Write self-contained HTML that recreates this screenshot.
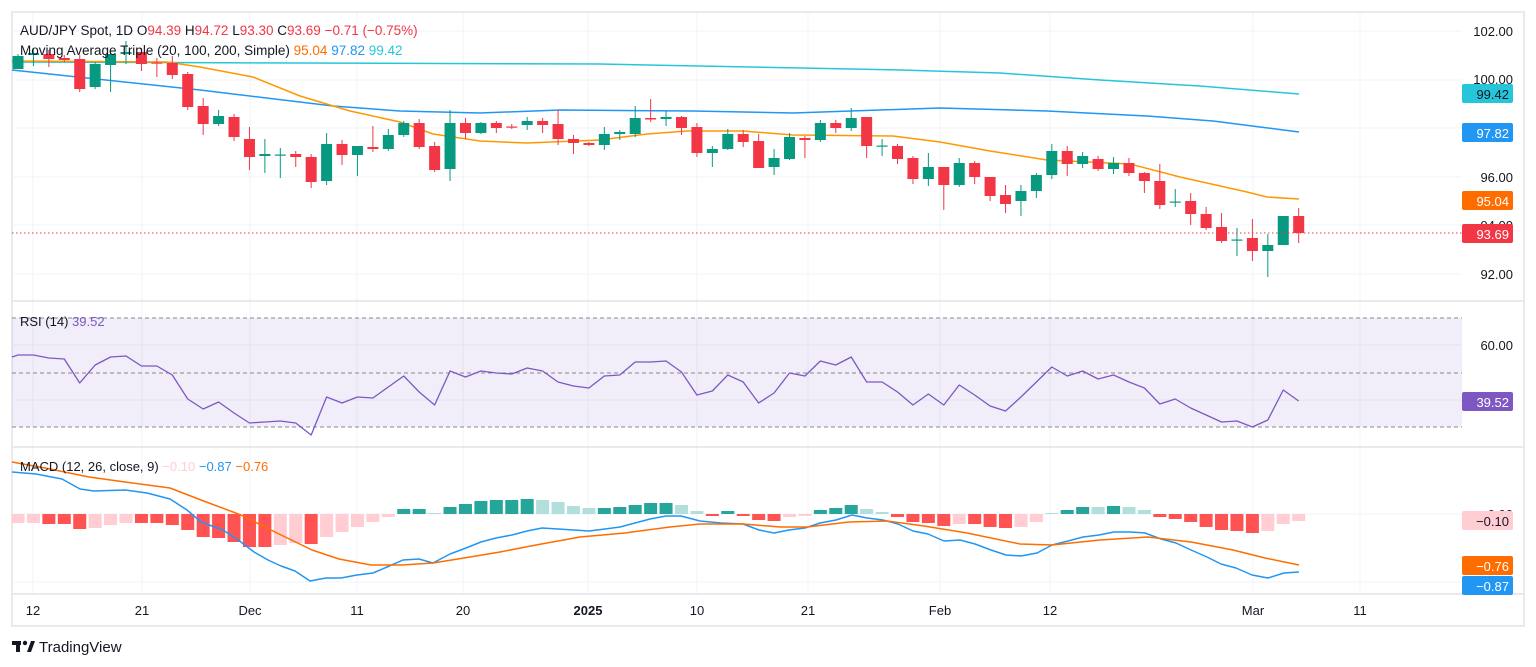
<!DOCTYPE html>
<html><head><meta charset="utf-8">
<style>
html,body{margin:0;padding:0;background:#fff;width:1536px;height:667px;overflow:hidden}
svg{display:block;font-family:"Liberation Sans","DejaVu Sans",sans-serif}
</style></head>
<body>
<svg id="s" width="1536" height="667" viewBox="0 0 1536 667" xmlns="http://www.w3.org/2000/svg">
<rect x="0" y="0" width="1536" height="667" fill="#fff"/>
<rect x="12" y="12" width="1512" height="614" fill="none" stroke="#e0e3eb" stroke-width="1.5"/>
<g id="grid" stroke="#f0f3fa" stroke-width="1"></g>
<!-- RSI band -->
<rect x="12" y="318" width="1450" height="109" fill="#7e57c2" fill-opacity="0.1"/>
<g stroke="#888" stroke-width="1" stroke-dasharray="4,3">
<line x1="12" y1="318" x2="1462" y2="318"/><line x1="12" y1="373" x2="1462" y2="373"/><line x1="12" y1="427" x2="1462" y2="427"/>
</g>
<!-- pane separators -->
<g stroke="#e0e3eb" stroke-width="1.5">
<line x1="12" y1="301" x2="1524" y2="301"/><line x1="12" y1="447" x2="1524" y2="447"/><line x1="12" y1="594" x2="1524" y2="594"/>
</g>
<line x1="12" y1="514" x2="1462" y2="514" stroke="#f0f3fa"/>
<g id="main"></g>
<line x1="12" y1="233" x2="1462" y2="233" stroke="#f23645" stroke-width="1" stroke-dasharray="1.5,2.5"/>

<!-- legends -->
<text x="20" y="35" font-size="13.5" fill="#131722">AUD/JPY Spot, 1D <tspan fill="#131722">O</tspan><tspan fill="#f23645">94.39</tspan> <tspan fill="#131722">H</tspan><tspan fill="#f23645">94.72</tspan> <tspan fill="#131722">L</tspan><tspan fill="#f23645">93.30</tspan> <tspan fill="#131722">C</tspan><tspan fill="#f23645">93.69</tspan> <tspan fill="#f23645">−0.71 (−0.75%)</tspan></text>
<text x="20" y="55" font-size="13.5" fill="#131722">Moving Average Triple (20, 100, 200, Simple) <tspan fill="#ff6d00">95.04</tspan> <tspan fill="#2196f3">97.82</tspan> <tspan fill="#26c6da">99.42</tspan></text>
<text x="20" y="326" font-size="13" fill="#131722">RSI (14) <tspan fill="#7e57c2">39.52</tspan></text>
<text x="20" y="471" font-size="13" fill="#131722">MACD (12, 26, close, 9) <tspan fill="#ffcdd2">−0.10</tspan> <tspan fill="#2196f3">−0.87</tspan> <tspan fill="#ff6d00">−0.76</tspan></text>

<!-- price axis -->
<g font-size="13" fill="#131722" text-anchor="end">
<text x="1513" y="36">102.00</text>
<text x="1513" y="84">100.00</text>
<text x="1513" y="182">96.00</text>
<text x="1513" y="230">94.00</text>
<text x="1513" y="279">92.00</text>
<text x="1513" y="350">60.00</text>
<text x="1513" y="519">0.00</text>
</g>
<rect x="1462" y="84" width="51" height="19" rx="2" fill="#26c6da"/><text x="1509" y="99" font-size="13" fill="#131722" text-anchor="end">99.42</text>
<rect x="1462" y="123" width="51" height="19" rx="2" fill="#2196f3"/><text x="1509" y="138" font-size="13" fill="#fff" text-anchor="end">97.82</text>
<rect x="1462" y="191" width="51" height="19" rx="2" fill="#ff6d00"/><text x="1509" y="206" font-size="13" fill="#fff" text-anchor="end">95.04</text>
<rect x="1462" y="224" width="51" height="19" rx="2" fill="#f23645"/><text x="1509" y="239" font-size="13" fill="#fff" text-anchor="end">93.69</text>
<rect x="1462" y="392" width="51" height="19" rx="2" fill="#7e57c2"/><text x="1509" y="407" font-size="13" fill="#fff" text-anchor="end">39.52</text>
<rect x="1462" y="511" width="51" height="19" rx="2" fill="#ffcdd2"/><text x="1509" y="526" font-size="13" fill="#131722" text-anchor="end">−0.10</text>
<rect x="1462" y="556" width="51" height="19" rx="2" fill="#ff6d00"/><text x="1509" y="571" font-size="13" fill="#fff" text-anchor="end">−0.76</text>
<rect x="1462" y="576" width="51" height="19" rx="2" fill="#2196f3"/><text x="1509" y="591" font-size="13" fill="#fff" text-anchor="end">−0.87</text>

<!-- time axis -->
<g font-size="13" fill="#131722" text-anchor="middle">
<text x="33" y="615">12</text><text x="142" y="615">21</text><text x="250" y="615">Dec</text><text x="357" y="615">11</text>
<text x="463" y="615">20</text><text x="588" y="615" font-weight="bold">2025</text><text x="697" y="615">10</text><text x="808" y="615">21</text>
<text x="940" y="615">Feb</text><text x="1050" y="615">12</text><text x="1253" y="615">Mar</text><text x="1360" y="615">11</text>
</g>
<!-- footer -->
<g fill="#131722">
<rect x="12" y="641" width="9" height="4"/><rect x="16" y="641" width="4" height="11"/>
<circle cx="25" cy="643" r="2.2"/><polygon points="27,652 31,641 35,641 31,652"/>
<text x="39" y="652" font-size="15">TradingView</text>
</g>
</svg>
<script>
(function(){
var NS="http://www.w3.org/2000/svg";
function el(p,t,a){var e=document.createElementNS(NS,t);for(var k in a)e.setAttribute(k,a[k]);p.appendChild(e);return e;}
var s=document.getElementById('s'),grid=document.getElementById('grid'),main=document.getElementById('main');
[33,142,250,357,463,588,697,808,940,1050,1253,1360].forEach(function(x){el(grid,'line',{x1:x,y1:13,x2:x,y2:594});});
[31,80,128,177,225,274,345,400].forEach(function(y){el(grid,'line',{x1:12,y1:y,x2:1462,y2:y});});
el(grid,'line',{x1:12,y1:582,x2:1462,y2:582});
function X(i){return 18+(i-1)*15.43;}
// candles: o,c,h,l (pixel y)
var C=[[69,56,54,69],[55,53,48,66],[54,59,50,67],[58,60,55,62],[59,89,55,92],[87,64,62,89],[65,54,49,92],[54,52,41,64],[52,64,48,71],[62.5,63.5,58,77],
[63,75,56,79],[74,107,72,110],[106,124,98,135],[124,116,110,126],[117,137,114,141],[139,157,127,170],[156,154,139,173],[155.5,154.5,148,178],[154,157,151,167],[157,182,154,188],
[181,144,133,185],[144,155,140,165],[155,146,146,176],[147,149,126,152],[149,135,129,151],[135,123,121,137],[123,147,119,149],[146,170,142,172],[169,123,110,181],[123,133,118,139],
[133,123,122,134],[123,128,121,133],[126.5,127.5,124,129],[125,121,117,130],[121,125,118,133],[124,139,110,145],[139,143,135,154],[143,145,142,146],[145,134,127,150],[134,132,130,140],
[134,118,106,137],[118,119.5,99,122],[119,117,111,126],[117,128,116,135],[127,153,123,157],[153,149,146,167],[149,134,129,150],[134,142,130,147],[141,168,134,168],[167,158,149,175],
[159,137,133,160],[138,140,136,158],[140,123,120,142],[123,128,120,133],[128,118,108,131],[117,146,117,158],[146.5,145.5,139,156],[146,159,144,164],[158,179,156,184],[179,167,153,186],
[167,185,167,210],[185,163,158,187],[163,177,161,184],[177,196,177,201],[195,204,185,213],[201,191,185,216],[191,175,173,198],[175,151,144,179],[151,164,146,176],[164,156,152,168],
[159,169,156,171],[169,163,157,174],[163,173,158,176],[173,181,172,193],[181,205,164,209],[202.5,201.5,189,207],[201,214,193,225],[214,228,207,230],[227,241,213,243],[240.5,239.5,228,256],
[238,251,219,261],[251,245,234,277],[245,216,216,245],[216,233,208,243]];
function poly(pts,col,w){el(main,'polyline',{points:pts.map(function(p){return p[0]+','+p[1];}).join(' '),fill:'none',stroke:col,'stroke-width':w||1.5,'stroke-linejoin':'round'});}
// MAs
poly([[12,62],[300,63],[600,64],[900,70],[1000,73],[1100,80],[1200,86],[1299,94]],'#26c6da');
poly([[12,70],[200,90],[333,106],[400,111],[480,113],[560,110],[693,111],[793,113],[880,110],[940,108],[1047,111],[1147,116],[1213,121],[1299,132]],'#2196f3');
poly([[12,61],[167,62],[200,67],[253,77],[300,96],[350,111],[400,122],[433,134],[480,141],[527,143],[600,140],[647,134],[687,131],[743,131],[793,135],[893,136],[940,142],[990,151],[1047,160],[1130,164],[1180,177],[1247,192],[1267,197],[1299,199]],'#ff9800');
C.forEach(function(c,k){var x=X(k+1),col=c[1]<c[0]?'#089981':'#f23645';
 el(main,'line',{x1:x,y1:c[2],x2:x,y2:c[3],stroke:col,'stroke-width':1});
 var t=Math.min(c[0],c[1]),h=Math.max(Math.abs(c[0]-c[1]),1.2);
 el(main,'rect',{x:x-5.5,y:t,width:11,height:h,fill:col});});
// RSI
var R=[355,355,358,359,383,365,357,356,366,366,375,399,409,402,413,423,422,421,423,435,397,403,397,398,387,376,392,405,371,377,371,373,374,368,371,382,386,388,376,375,362,362,361,372,395,
391,375,382,403,393,373,376,361,365,357,382,382,392,405,394,405,385,395,406,411,397,382,367,376,371,379,375,382,388,404,399,408,415,422,421,427,420,390,401];
poly([[12,357]].concat(R.map(function(y,k){return [X(k+1),y];})),'#7e57c2',1.3);
// MACD hist
var H=[[523,'l'],[523,'l'],[524,'r'],[524,'r'],[529,'r'],[528,'l'],[525,'l'],[523,'l'],[523,'r'],[523,'r'],[525,'r'],[530,'r'],[537,'r'],[538,'r'],[542,'r'],[547,'r'],[547,'r'],[545,'l'],[543,'l'],[544,'r'],
[537,'l'],[532,'l'],[527,'l'],[522,'l'],[517,'l'],[509,'g'],[509,'g'],[513,'L'],[507,'g'],[504,'g'],[501,'g'],[500,'g'],[500,'g'],[499,'g'],[500,'L'],[502,'L'],[506,'L'],[508,'L'],[508,'g'],[507,'g'],
[505,'g'],[503,'g'],[503,'g'],[505,'L'],[511,'L'],[516,'r'],[511,'g'],[516,'r'],[520,'r'],[521,'r'],[517,'l'],[516,'l'],[510,'g'],[508,'g'],[505,'g'],[509,'L'],[512,'L'],[517,'r'],[522,'r'],[523,'r'],
[526,'r'],[524,'l'],[524,'r'],[527,'r'],[528,'r'],[527,'l'],[522,'l'],[513,'L'],[510,'g'],[507,'g'],[507,'L'],[506,'g'],[507,'L'],[510,'L'],[517,'r'],[519,'r'],[522,'r'],[527,'r'],[530,'r'],[531,'r'],
[533,'r'],[531,'l'],[524,'l'],[521,'l']];
var HC={r:'#ff5252',l:'#ffcdd2',g:'#26a69a',L:'#b2dfdb'};
H.forEach(function(h,k){var x=X(k+1),y=h[0],t=Math.min(y,514),hh=Math.max(Math.abs(y-514),1);
 el(main,'rect',{x:x-6.5,y:t,width:13,height:hh,fill:HC[h[1]]});});
poly([[12,472],[36,474],[62,479],[80,489],[94,491],[125,490],[147,493],[170,499],[187,510],[201,522],[223,530],[241,542],[254,552],[268,560],[281,566],[295,571],[310,581],[326,578],[341,578],[357,575],[373,573],[387,567],[403,560],[419,559],[433,563],[450,554],[466,548],[481,542],[496,538],[512,535],[527,531],[542,528],[558,529],[574,530],[589,531],[605,529],[620,527],[635,523],[650,519],[666,516],[681,516],[700,521],[721,523],[743,524],[759,530],[774,533],[789,530],[805,528],[820,523],[836,520],[852,515],[867,518],[883,520],[898,524],[913,531],[928,534],[944,541],[960,540],[975,544],[991,550],[1006,555],[1021,556],[1037,553],[1052,545],[1068,541],[1083,537],[1099,535],[1114,532],[1130,532],[1145,533],[1161,539],[1176,543],[1191,550],[1207,557],[1221,564],[1236,568],[1252,575],[1268,578],[1284,573],[1299,572]],'#2196f3');
poly([[12,462],[45,468],[89,477],[125,482],[170,488],[201,500],[241,515],[277,533],[312,550],[339,559],[371,565],[402,565],[433,563],[464,558],[500,552],[536,545],[580,537],[625,533],[670,527],[700,524],[743,524],[780,527],[807,527],[849,522],[887,521],[924,526],[967,533],[1020,544],[1052,545],[1100,540],[1148,537],[1191,542],[1233,550],[1265,558],[1299,565]],'#ff6d00');
})();
</script>
</body></html>
